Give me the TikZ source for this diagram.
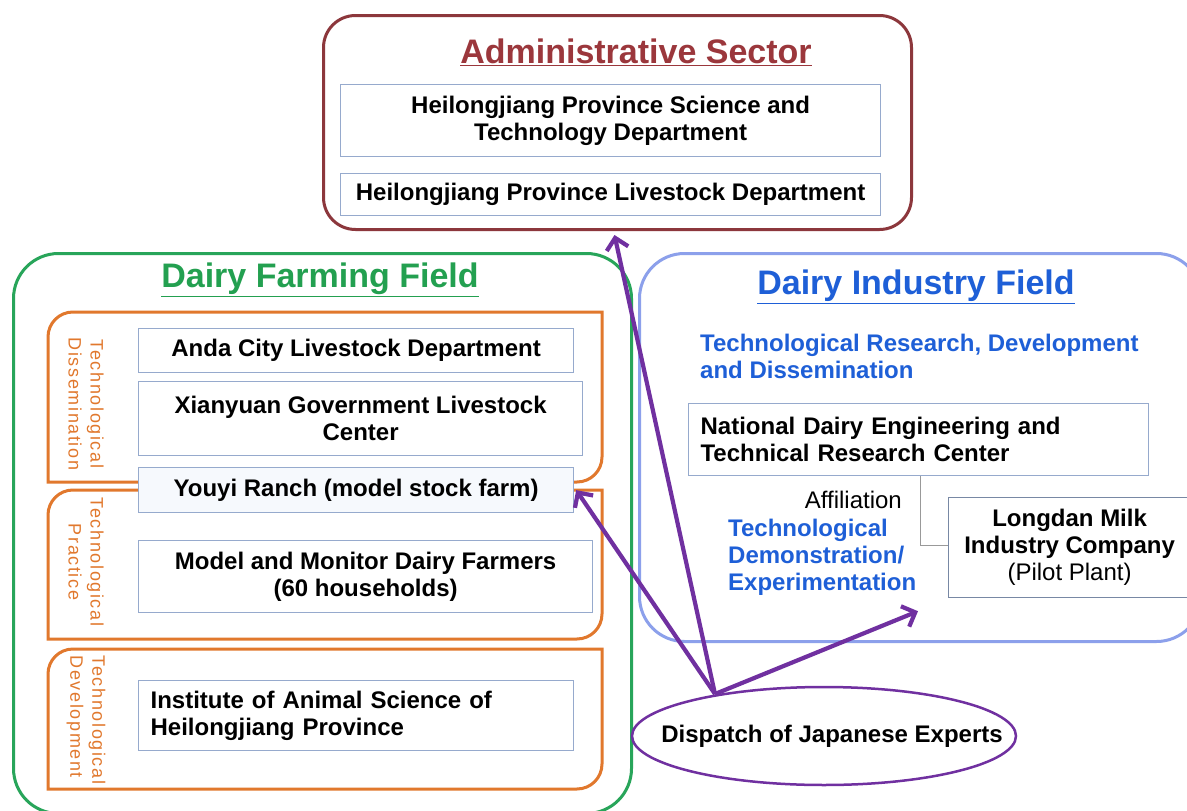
\documentclass[tikz,border=0pt]{standalone}
\usepackage{fontspec}
\setmainfont{Liberation Sans}
\usetikzlibrary{arrows.meta,shapes.geometric,calc}
\definecolor{adminc}{RGB}{140,55,60}
\definecolor{admint}{RGB}{155,55,60}
\definecolor{greenc}{RGB}{40,165,90}
\definecolor{greent}{RGB}{35,160,80}
\definecolor{bluec}{RGB}{140,160,235}
\definecolor{bluet}{RGB}{30,95,215}
\definecolor{orangec}{RGB}{225,120,45}
\definecolor{boxc}{RGB}{150,170,205}
\definecolor{purplec}{RGB}{112,48,160}
\definecolor{youyif}{RGB}{246,249,253}
\begin{document}
\begin{tikzpicture}[x=1pt,y=-1pt,
  body/.style={font=\fontsize{24}{27}\selectfont\bfseries},
  ttl/.style={font=\fontsize{34}{38}\selectfont\bfseries, inner sep=0pt},
  inbox/.style={draw=boxc, line width=1.2pt, fill=white, anchor=north west, inner sep=0pt, body, align=center},
  field/.style={line width=3pt, anchor=north west, inner sep=0pt},
  orng/.style={draw=orangec, line width=3pt},
  vlab/.style={rotate=-90, text=orangec, font=\fontsize{18}{22}\selectfont\addfontfeature{LetterSpace=9}, inner sep=0pt},
  arr/.style={draw=purplec, line width=4.2pt, -{Straight Barb[length=11pt,width=22pt]}},
  plain/.style={font=\fontsize{24}{27}\selectfont, inner sep=0pt},
]
\fill[white] (0,0) rectangle (1187,811);
\useasboundingbox (0,0) rectangle (1187,811);

% Administrative sector
\node[field, draw=adminc, rounded corners=32pt, minimum width=588pt, minimum height=214pt] (admin) at (322,14) {};
\node[ttl, text=admint] (admtitle) at (636,52) {\underline{Administrative Sector}};
\node[inbox, minimum width=540pt, minimum height=72pt] (sci) at (340,84) {Heilongjiang Province Science and\\Technology Department};
\node[inbox, minimum width=540pt, minimum height=42pt] (live) at (340,173) {Heilongjiang Province Livestock Department};

% Dairy farming field
\node[field, draw=greenc, rounded corners=45pt, minimum width=618pt, minimum height=560pt] (farm) at (12,252) {};
\node[ttl, text=greent] (farmtitle) at (320,280) {\underline{Dairy Farming Field}};

\draw[orng] (602,312) -- (73,312) arc[start angle=270,end angle=180,radius=25] -- (48,482) -- (577,482) arc[start angle=90,end angle=0,radius=25] -- cycle;
\draw[orng] (602,490) -- (73,490) arc[start angle=270,end angle=180,radius=25] -- (48,639) -- (577,639) arc[start angle=90,end angle=0,radius=25] -- cycle;
\draw[orng] (602,649) -- (73,649) arc[start angle=270,end angle=180,radius=25] -- (48,789) -- (577,789) arc[start angle=90,end angle=0,radius=25] -- cycle;

\node[vlab, align=center] (lab1) at (86,404) {Technological\\Dissemination};
\node[vlab, align=center] (lab2) at (86,562) {Technological\\Practice};
\node[vlab, align=left] (lab3) at (86,720) {Technological\\Development};

\node[inbox, minimum width=435pt, minimum height=44pt] (anda) at (138,328) {Anda City Livestock Department};
\node[inbox, minimum width=444pt, minimum height=74pt] (xian) at (138,381) {Xianyuan Government Livestock\\Center};
\node[inbox, fill=youyif, minimum width=435pt, minimum height=45pt] (youyi) at (138,467) {Youyi Ranch (model stock farm)};
\node[inbox, minimum width=454pt, minimum height=72pt] (model) at (138,540) {Model and Monitor Dairy Farmers\\(60 households)};
\node[inbox, minimum width=435pt, minimum height=70pt, align=left, text width=411pt, inner xsep=12pt] (inst) at (138,680) {Institute of Animal Science of\\Heilongjiang Province};

% Dairy industry field
\node[field, draw=bluec, rounded corners=45pt, minimum width=562pt, minimum height=388pt] (ind) at (638,252) {};
\node[ttl, text=bluet] (indtitle) at (916,287) {\underline{Dairy Industry Field}};
\node[body, text=bluet, align=left, anchor=west, inner sep=0pt] (trd) at (700,356) {Technological Research, Development\\and Dissemination};
\node[inbox, minimum width=460pt, minimum height=72pt, align=left, text width=436pt, inner xsep=12pt] (nat) at (688,403) {National Dairy Engineering and\\Technical Research Center};
\node[plain, anchor=east] (affl) at (902,500) {Affiliation};
\node[body, text=bluet, align=left, anchor=west, inner sep=0pt] (demo) at (728,557) {Technological\\Demonstration/\\Experimentation};
\node[inbox, draw=boxc!80!black, minimum width=242pt, minimum height=100pt] (longdan) at (948,497) {Longdan Milk\\Industry Company\\{\mdseries (Pilot Plant)}};
\coordinate (aff) at (920,545);
\draw[draw=gray!80, line width=1pt] (nat.south -| aff) -- (aff) -- (longdan.west |- aff);

% Dispatch
\node[ellipse, draw=purplec, line width=2.5pt, inner sep=0pt, minimum width=384pt, minimum height=98pt, fill=white] (disp) at (824,736) {};
\node[body, inner sep=0pt] (disptext) at (832,736) {Dispatch of Japanese Experts};
\coordinate (src) at (715,694);
\draw[arr] (src) -- ([xshift=-3pt,yshift=-4pt]admin.south);
\draw[arr] (src) -- ([xshift=2pt]youyi.east);
\draw[arr] (src) -- ([xshift=-30pt,yshift=-13pt]longdan.south west);
\end{tikzpicture}
\end{document}
